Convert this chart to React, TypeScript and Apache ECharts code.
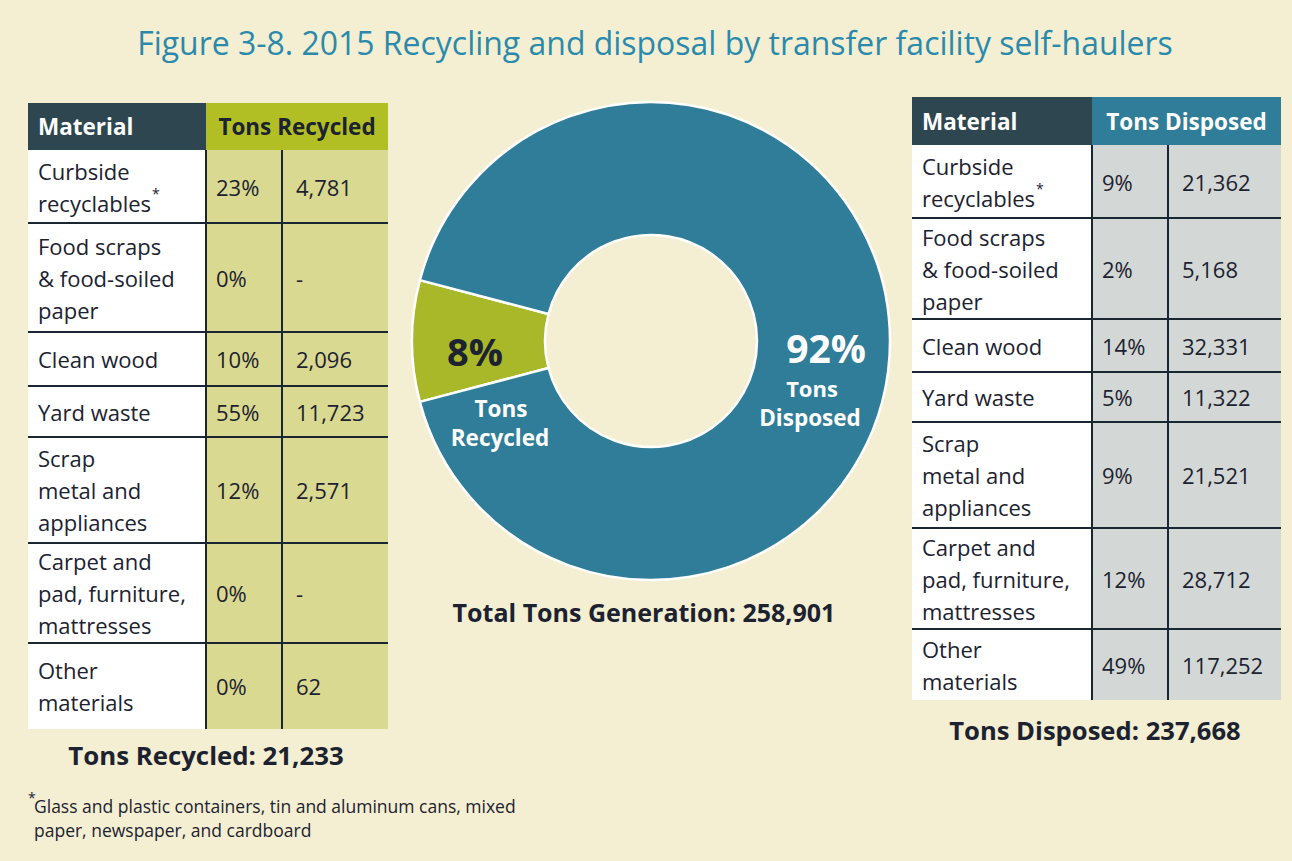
import React, { useEffect, useRef } from "react";
import * as echarts from "echarts";

// ---------- data ----------
const materials = [
  "Curbside\nrecyclables*",
  "Food scraps\n& food-soiled\npaper",
  "Clean wood",
  "Yard waste",
  "Scrap\nmetal and\nappliances",
  "Carpet and\npad, furniture,\nmattresses",
  "Other\nmaterials",
];
const recycledPct = ["23%", "0%", "10%", "55%", "12%", "0%", "0%"];
const recycledTons: (number | null)[] = [4781, null, 2096, 11723, 2571, null, 62];
const disposedPct = ["9%", "2%", "14%", "5%", "9%", "12%", "49%"];
const disposedTons: (number | null)[] = [21362, 5168, 32331, 11322, 21521, 28712, 117252];
const donutNames = ["Tons Recycled", "Tons Disposed"];
const titleText = "Figure 3-8. 2015 Recycling and disposal by transfer facility self-haulers";
const footnoteLines = [
  "Glass and plastic containers, tin and aluminum cans, mixed",
  "paper, newspaper, and cardboard",
];

// ---------- styling ----------
const BG = "#f4efd2";
const BLUE = "#2f7d99";
const GREEN = "#a9b828";
const DARK_HEAD = "#2e4650";
const INK = "#1c2230";
const LINE = "#1b2633";
const FONT = "'Open Sans', 'Noto Sans', sans-serif";

const fmt = (v: number | null) => (v == null ? "-" : v.toLocaleString("en-US"));
const sum = (a: (number | null)[]) => a.reduce((s: number, v) => s + (v || 0), 0);

function measure(text: string, font: string) {
  const c = document.createElement("canvas").getContext("2d");
  if (!c) return text.length * 14;
  c.font = font;
  return c.measureText(text).width;
}

function materialText(m: string) {
  return m
    .split("\n")
    .map((line) => (line.endsWith("*") ? `{m|${line.slice(0, -1)}}{s|*}` : `{m|${line}}`))
    .join("\n");
}

interface TableCfg {
  x0: number;
  xPct: number;
  xVal: number;
  x1: number;
  rows: number[]; // header top, header bottom, row bottoms...
  header: string;
  headerFill: string;
  headerInk: string;
  cellFill: string;
  pcts: string[];
  tons: (number | null)[];
}

function buildTable(cfg: TableCfg) {
  const els: any[] = [];
  const { x0, xPct, xVal, x1, rows } = cfg;
  const hTop = rows[0];
  const hBot = rows[1];
  const bottom = rows[rows.length - 1];
  els.push({ type: "rect", shape: { x: x0, y: hTop, width: xPct - x0, height: hBot - hTop }, style: { fill: DARK_HEAD } });
  els.push({ type: "rect", shape: { x: xPct, y: hTop, width: x1 - xPct, height: hBot - hTop }, style: { fill: cfg.headerFill } });
  els.push({ type: "rect", shape: { x: x0, y: hBot, width: xPct - x0, height: bottom - hBot }, style: { fill: "#ffffff" } });
  els.push({ type: "rect", shape: { x: xPct, y: hBot, width: x1 - xPct, height: bottom - hBot }, style: { fill: cfg.cellFill } });
  els.push({
    type: "text", x: x0 + 10, y: (hTop + hBot) / 2,
    style: { text: "Material", fontSize: 22.5, fontWeight: "bold", fontFamily: FONT, fill: "#ffffff", align: "left", verticalAlign: "middle" },
  });
  els.push({
    type: "text", x: (xPct + x1) / 2, y: (hTop + hBot) / 2,
    style: { text: cfg.header, fontSize: 22.5, fontWeight: "bold", fontFamily: FONT, fill: cfg.headerInk, align: "center", verticalAlign: "middle" },
  });
  // lines
  for (let i = 2; i < rows.length - 1; i++) {
    els.push({ type: "line", shape: { x1: x0, y1: rows[i], x2: x1, y2: rows[i] }, style: { stroke: LINE, lineWidth: 2 } });
  }
  [xPct, xVal].forEach((x) =>
    els.push({ type: "line", shape: { x1: x, y1: hBot, x2: x, y2: bottom }, style: { stroke: LINE, lineWidth: 2 } })
  );
  // cells
  materials.forEach((m, i) => {
    const cy = (rows[i + 1] + rows[i + 2]) / 2;
    els.push({
      type: "text", x: x0 + 10, y: cy,
      style: {
        text: materialText(m), fontSize: 22, fontFamily: FONT, fill: INK, align: "left", verticalAlign: "middle", lineHeight: 32,
        rich: {
          m: { fontSize: 22, fontFamily: FONT, fill: INK, lineHeight: 32 },
          s: { fontSize: 14, fontFamily: FONT, fill: INK, lineHeight: 32, verticalAlign: "top", padding: [0, 0, 0, 1] },
        },
      },
    });
    els.push({
      type: "text", x: xPct + 10, y: cy,
      style: { text: cfg.pcts[i], fontSize: 22, fontFamily: FONT, fill: INK, align: "left", verticalAlign: "middle" },
    });
    els.push({
      type: "text", x: xVal + 14, y: cy,
      style: { text: fmt(cfg.tons[i]), fontSize: 22, fontFamily: FONT, fill: INK, align: "left", verticalAlign: "middle" },
    });
  });
  return els;
}

export default function App() {
  const ref = useRef<HTMLDivElement>(null);
  useEffect(() => {
    document.body.style.margin = "0";
    if (!ref.current) return;
    const chart = echarts.init(ref.current, undefined, { renderer: "svg" });

    const recycledTotal = sum(recycledTons);
    const disposedTotal = sum(disposedTons);
    const total = recycledTotal + disposedTotal;
    const recShare = recycledTotal / total;
    const startAngle = 180 + (recShare * 360) / 2;

    const titleFont = `32px ${FONT}`;
    const titleScale = 1036 / measure(titleText, titleFont);

    const [recWord1, recWord2] = donutNames[0].split(" ");
    const [disWord1, disWord2] = donutNames[1].split(" ");
    const boldLabel = (text: string, x: number, y: number, size: number, fill: string) => ({
      type: "text", x, y, z: 100,
      style: { text, fontSize: size, fontWeight: "bold", fontFamily: FONT, fill, align: "center", verticalAlign: "middle" },
    });

    const graphics: any[] = [
      {
        type: "text", x: 655, y: 42, scaleX: titleScale,
        style: { text: titleText, fontSize: 32, fontFamily: FONT, fill: "#2b8aab", align: "center", verticalAlign: "middle" },
      },
      ...buildTable({
        x0: 28, xPct: 206, xVal: 282, x1: 388,
        rows: [103, 150, 223, 332, 386, 437, 543, 643, 729],
        header: "Tons Recycled", headerFill: "#b2bf24", headerInk: INK, cellFill: "#dad991",
        pcts: recycledPct, tons: recycledTons,
      }),
      ...buildTable({
        x0: 912, xPct: 1092, xVal: 1168, x1: 1281,
        rows: [97, 145, 218, 319, 372, 422, 528, 629, 700],
        header: "Tons Disposed", headerFill: BLUE, headerInk: "#ffffff", cellFill: "#d3d8d6",
        pcts: disposedPct, tons: disposedTons,
      }),
      boldLabel(`${donutNames[0]}: ${fmt(recycledTotal)}`, 206, 755, 25.8, INK),
      boldLabel(`${donutNames[1]}: ${fmt(disposedTotal)}`, 1095, 730, 25.6, INK),
      boldLabel(`Total Tons Generation: ${fmt(total)}`, 644, 612, 25, INK),
      // donut labels
      boldLabel(`${Math.round(recShare * 100)}%`, 475, 351, 38, INK),
      boldLabel(recWord1, 501, 408, 22.5, "#ffffff"),
      boldLabel(recWord2, 500, 437, 22.5, "#ffffff"),
      boldLabel(`${Math.round((1 - recShare) * 100)}%`, 826, 347, 39, "#ffffff"),
      boldLabel(disWord1, 812, 388, 22, "#ffffff"),
      boldLabel(disWord2, 810, 417, 22.5, "#ffffff"),
      // footnote
      {
        type: "text", x: 28, y: 797,
        style: { text: "*", fontSize: 14, fontFamily: FONT, fill: INK, align: "left", verticalAlign: "middle" },
      },
      {
        type: "text", x: 34, y: 818,
        style: { text: footnoteLines.join("\n"), fontSize: 17.5, lineHeight: 24, fontFamily: FONT, fill: INK, align: "left", verticalAlign: "middle" },
      },
    ];

    chart.setOption({
      animation: false,
      backgroundColor: BG,
      series: [
        {
          type: "pie",
          center: [651, 341],
          radius: [106, 239],
          startAngle,
          clockwise: true,
          silent: true,
          label: { show: false },
          labelLine: { show: false },
          itemStyle: { borderColor: "#ffffff", borderWidth: 2.5 },
          data: [
            { name: donutNames[0], value: recycledTotal, itemStyle: { color: GREEN } },
            { name: donutNames[1], value: disposedTotal, itemStyle: { color: BLUE } },
          ],
        },
      ],
      graphic: { elements: graphics },
    });
    return () => chart.dispose();
  }, []);
  return <div ref={ref} style={{ width: 1292, height: 861 }} />;
}
